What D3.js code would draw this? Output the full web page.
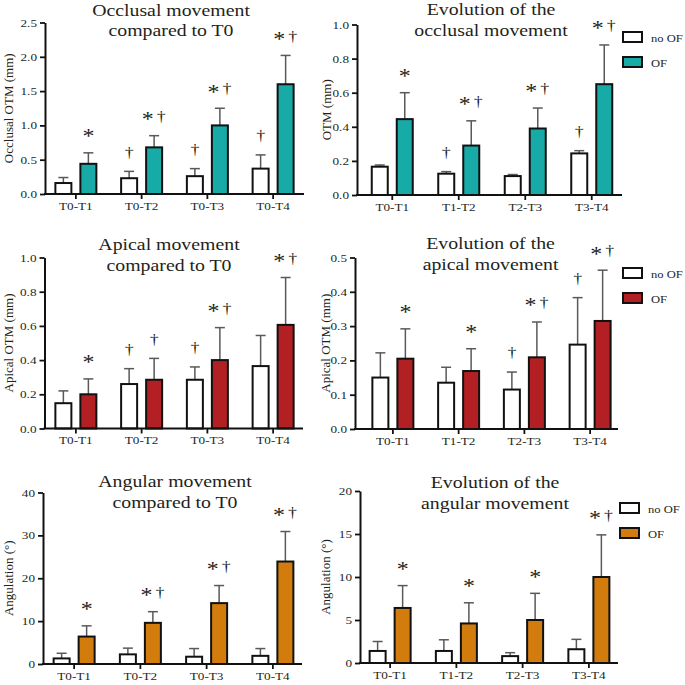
<!DOCTYPE html>
<html>
<head>
<meta charset="utf-8">
<script src="https://cdn.jsdelivr.net/npm/d3@7"></script>
<style>
  body { margin: 0; background: #fff; }
  svg { display: block; }
  text { font-family: "Liberation Serif", "Times New Roman", serif; fill: #231f20; }
</style>
</head>
<body>
<div id="chart"></div>
<script>

// ---- data ----
var seriesNames = ["no OF", "OF"];
var cumulCats = ["T0-T1", "T0-T2", "T0-T3", "T0-T4"];
var stepCats = ["T0-T1", "T1-T2", "T2-T3", "T3-T4"];

// occlusal, compared to T0
var occCumNoOF = [0.16, 0.23, 0.26, 0.37];
var occCumNoOFsd = [0.08, 0.10, 0.11, 0.20];
var occCumOF = [0.44, 0.68, 1.00, 1.60];
var occCumOFsd = [0.16, 0.17, 0.25, 0.42];
var occCumNotesNoOF = ["", "†", "†", "†"];
var occCumNotesOF = ["*", "*†", "*†", "*†"];
var occCumTicks = [0, 0.5, 1.0, 1.5, 2.0, 2.5];

// occlusal, evolution
var occEvoNoOF = [0.166, 0.125, 0.111, 0.244];
var occEvoNoOFsd = [0.010, 0.012, 0.009, 0.016];
var occEvoOF = [0.445, 0.29, 0.39, 0.65];
var occEvoOFsd = [0.155, 0.145, 0.12, 0.23];
var occEvoNotesNoOF = ["", "†", "", "†"];
var occEvoNotesOF = ["*", "*†", "*†", "*†"];
var occEvoTicks = [0, 0.2, 0.4, 0.6, 0.8, 1.0];

// apical, compared to T0
var apiCumNoOF = [0.148, 0.26, 0.285, 0.365];
var apiCumNoOFsd = [0.072, 0.09, 0.075, 0.179];
var apiCumOF = [0.20, 0.285, 0.40, 0.606];
var apiCumOFsd = [0.09, 0.125, 0.19, 0.277];
var apiCumNotesNoOF = ["", "†", "†", ""];
var apiCumNotesOF = ["*", "†", "*†", "*†"];
var apiCumTicks = [0, 0.2, 0.4, 0.6, 0.8, 1.0];

// apical, evolution
var apiEvoNoOF = [0.150, 0.135, 0.115, 0.246];
var apiEvoNoOFsd = [0.072, 0.045, 0.051, 0.137];
var apiEvoOF = [0.205, 0.169, 0.209, 0.315];
var apiEvoOFsd = [0.087, 0.065, 0.103, 0.148];
var apiEvoNotesNoOF = ["", "", "†", "†"];
var apiEvoNotesOF = ["*", "*", "*†", "*†"];
var apiEvoTicks = [0, 0.1, 0.2, 0.3, 0.4, 0.5];

// angular, compared to T0
var angCumNoOF = [1.3, 2.25, 1.7, 1.9];
var angCumNoOFsd = [1.2, 1.45, 1.9, 1.7];
var angCumOF = [6.4, 9.6, 14.2, 23.9];
var angCumOFsd = [2.5, 2.6, 4.1, 7.0];
var angCumNotesNoOF = ["", "", "", ""];
var angCumNotesOF = ["*", "*†", "*†", "*†"];
var angCumTicks = [0, 10, 20, 30, 40];

// angular, evolution
var angEvoNoOF = [1.4, 1.4, 0.8, 1.6];
var angEvoNoOFsd = [1.1, 1.3, 0.4, 1.15];
var angEvoOF = [6.4, 4.6, 5.0, 10.0];
var angEvoOFsd = [2.6, 2.4, 3.1, 4.9];
var angEvoNotesNoOF = ["", "", "", ""];
var angEvoNotesOF = ["*", "*", "*", "*†"];
var angEvoTicks = [0, 5, 10, 15, 20];

// ---- layout ----
var SX = 1.2; // the source figure is stretched sideways, text included

var svg = d3.select("#chart").append("svg")
    .attr("width", 685)
    .attr("height", 685);

var panels = [
    {cats: cumulCats, means: [occCumNoOF, occCumOF], sds: [occCumNoOFsd, occCumOFsd],
     notes: [occCumNotesNoOF, occCumNotesOF], ticks: occCumTicks, fmt: ".1f", color: "#17aaa7",
     title: ["Occlusal movement", "compared to T0"], ylabel: "Occlusal OTM (mm)",
     ax: 45, band: [43, 306], xEnd: 304, top: 22.5, bot: 194, tx: 171, ty: [16, 36], lx: 13, legend: null},
    {cats: stepCats, means: [occEvoNoOF, occEvoOF], sds: [occEvoNoOFsd, occEvoOFsd],
     notes: [occEvoNotesNoOF, occEvoNotesOF], ticks: occEvoTicks, fmt: ".1f", color: "#17aaa7",
     title: ["Evolution of the", "occlusal movement"], ylabel: "OTM (mm)",
     ax: 357, band: [359, 625], xEnd: 622, top: 24.5, bot: 195, tx: 491, ty: [15, 36], lx: 331, legend: [623, 32]},
    {cats: cumulCats, means: [apiCumNoOF, apiCumOF], sds: [apiCumNoOFsd, apiCumOFsd],
     notes: [apiCumNotesNoOF, apiCumNotesOF], ticks: apiCumTicks, fmt: ".1f", color: "#b22024",
     title: ["Apical movement", "compared to T0"], ylabel: "Apical OTM (mm)",
     ax: 44.5, band: [43, 306], xEnd: 303, top: 257.5, bot: 428.5, tx: 169, ty: [250, 270.5], lx: 13, legend: null},
    {cats: stepCats, means: [apiEvoNoOF, apiEvoOF], sds: [apiEvoNoOFsd, apiEvoOFsd],
     notes: [apiEvoNotesNoOF, apiEvoNotesOF], ticks: apiEvoTicks, fmt: ".1f", color: "#b22024",
     title: ["Evolution of the", "apical movement"], ylabel: "Apical OTM (mm)",
     ax: 355, band: [360, 623], xEnd: 618, top: 257.5, bot: 429, tx: 490.5, ty: [249, 270], lx: 330, legend: [623, 268]},
    {cats: cumulCats, means: [angCumNoOF, angCumOF], sds: [angCumNoOFsd, angCumOFsd],
     notes: [angCumNotesNoOF, angCumNotesOF], ticks: angCumTicks, fmt: "d", color: "#d37c0e",
     title: ["Angular movement", "compared to T0"], ylabel: "Angulation (°)",
     ax: 43, band: [41, 306], xEnd: 302, top: 492.5, bot: 664, tx: 175, ty: [487, 508], lx: 13, legend: null},
    {cats: stepCats, means: [angEvoNoOF, angEvoOF], sds: [angEvoNoOFsd, angEvoOFsd],
     notes: [angEvoNotesNoOF, angEvoNotesOF], ticks: angEvoTicks, fmt: "d", color: "#d37c0e",
     title: ["Evolution of the", "angular movement"], ylabel: "Angulation (°)",
     ax: 360, band: [357, 622], xEnd: 618, top: 491, bot: 663, tx: 495, ty: [487.5, 508.5], lx: 330, legend: [620, 503]}
];

// move x/y into a transform so the text can be widened like the source
function stretchText(sel, sx, rot) {
    sel.each(function() {
        var t = d3.select(this);
        var x = +t.attr("x") || 0;
        var y = +t.attr("y") || 0;
        t.attr("x", null).attr("y", null)
            .attr("transform", "translate(" + x + "," + y + ") scale(" + (sx || SX) + ",1)" + (rot ? " rotate(" + rot + ")" : ""));
    });
}

function drawPanel(p) {
    var g = svg.append("g");

    var x = d3.scaleBand().domain(p.cats).range(p.band);
    var xs = d3.scaleBand().domain(seriesNames).range([-20.5, 20.5]).paddingInner(0.36);
    var y = d3.scaleLinear().domain([0, d3.max(p.ticks)]).range([p.bot, p.top]);

    var rows = [];
    p.cats.forEach(function(c, i) {
        seriesNames.forEach(function(s, j) {
            rows.push({cat: c, s: s, j: j, mean: p.means[j][i], sd: p.sds[j][i], note: p.notes[j][i]});
        });
    });
    var cx = function(d) { return x(d.cat) + x.bandwidth() / 2 + xs(d.s) + xs.bandwidth() / 2; };

    // error bars (upper half only)
    var err = g.append("g").attr("stroke", "#595959").attr("stroke-width", 1.5);
    err.selectAll(".stem").data(rows).enter().append("line")
        .attr("x1", cx).attr("x2", cx)
        .attr("y1", function(d) { return y(d.mean); })
        .attr("y2", function(d) { return y(d.mean + d.sd); });
    err.selectAll(".cap").data(rows).enter().append("line")
        .attr("x1", function(d) { return cx(d) - 5; })
        .attr("x2", function(d) { return cx(d) + 5; })
        .attr("y1", function(d) { return y(d.mean + d.sd); })
        .attr("y2", function(d) { return y(d.mean + d.sd); });

    // bars
    g.selectAll("rect.bar").data(rows).enter().append("rect")
        .attr("class", "bar")
        .attr("x", function(d) { return cx(d) - xs.bandwidth() / 2; })
        .attr("y", function(d) { return y(d.mean); })
        .attr("width", xs.bandwidth())
        .attr("height", function(d) { return p.bot - y(d.mean); })
        .attr("fill", function(d) { return d.j === 0 ? "#fff" : p.color; })
        .attr("stroke", "#111")
        .attr("stroke-width", 2);

    // significance marks
    rows.forEach(function(d) {
        if (!d.note) return;
        var parts = d.note.split("");
        var cy = y(d.mean + d.sd) - 19;
        parts.forEach(function(ch, k) {
            var dx = parts.length === 1 ? 0 : (k === 0 ? -6.5 : 7);
            var fs = ch === "*" ? 20 : 15;
            var off = ch === "*" ? 0.47 : 0.28;
            g.append("text")
                .attr("x", cx(d) + dx)
                .attr("y", cy + off * fs)
                .attr("text-anchor", "middle")
                .style("font-size", fs + "px")
                .text(ch)
                .call(stretchText);
        });
    });

    // y axis
    var yAxis = g.append("g")
        .attr("transform", "translate(" + p.ax + ",0)")
        .call(d3.axisLeft(y).tickValues(p.ticks).tickSize(5).tickSizeOuter(0).tickPadding(3).tickFormat(d3.format(p.fmt)));
    yAxis.select(".domain").attr("stroke-width", 2).attr("stroke", "#111");
    yAxis.selectAll(".tick line").attr("stroke-width", 1.8).attr("stroke", "#111");
    yAxis.selectAll("text").style("font-size", "11px").attr("fill", "#231f20").call(stretchText);

    // x axis
    var xAxis = g.append("g")
        .attr("transform", "translate(0," + p.bot + ")")
        .call(d3.axisBottom(x).tickSize(5).tickSizeOuter(0).tickPadding(3));
    xAxis.select(".domain").remove();
    xAxis.append("line")
        .attr("x1", p.ax - 1).attr("x2", p.xEnd)
        .attr("stroke", "#111").attr("stroke-width", 2);
    xAxis.selectAll(".tick line").attr("stroke-width", 1.8).attr("stroke", "#111");
    xAxis.selectAll("text").style("font-size", "11px").attr("fill", "#231f20").call(stretchText);

    // title
    p.title.forEach(function(line, k) {
        g.append("text")
            .attr("x", p.tx).attr("y", p.ty[k])
            .attr("text-anchor", "middle")
            .style("font-size", "16.5px")
            .text(line)
            .call(stretchText);
    });

    // y label
    g.append("text")
        .attr("x", p.lx).attr("y", (p.top + p.bot) / 2)
        .attr("text-anchor", "middle")
        .style("font-size", "13px")
        .text(p.ylabel)
        .call(stretchText, 1, -90);

    // legend
    if (p.legend) {
        var lg = g.append("g").attr("transform", "translate(" + p.legend[0] + "," + p.legend[1] + ")");
        seriesNames.forEach(function(s, j) {
            lg.append("rect")
                .attr("x", 0).attr("y", j * 25)
                .attr("width", 19).attr("height", 10)
                .attr("fill", j === 0 ? "#fff" : p.color)
                .attr("stroke", "#111").attr("stroke-width", 2);
            lg.append("text")
                .attr("x", 28).attr("y", j * 25 + 10)
                .style("font-size", "10.5px")
                .text(s)
                .call(stretchText);
        });
    }
}

panels.forEach(drawPanel);

</script>
</body>
</html>
